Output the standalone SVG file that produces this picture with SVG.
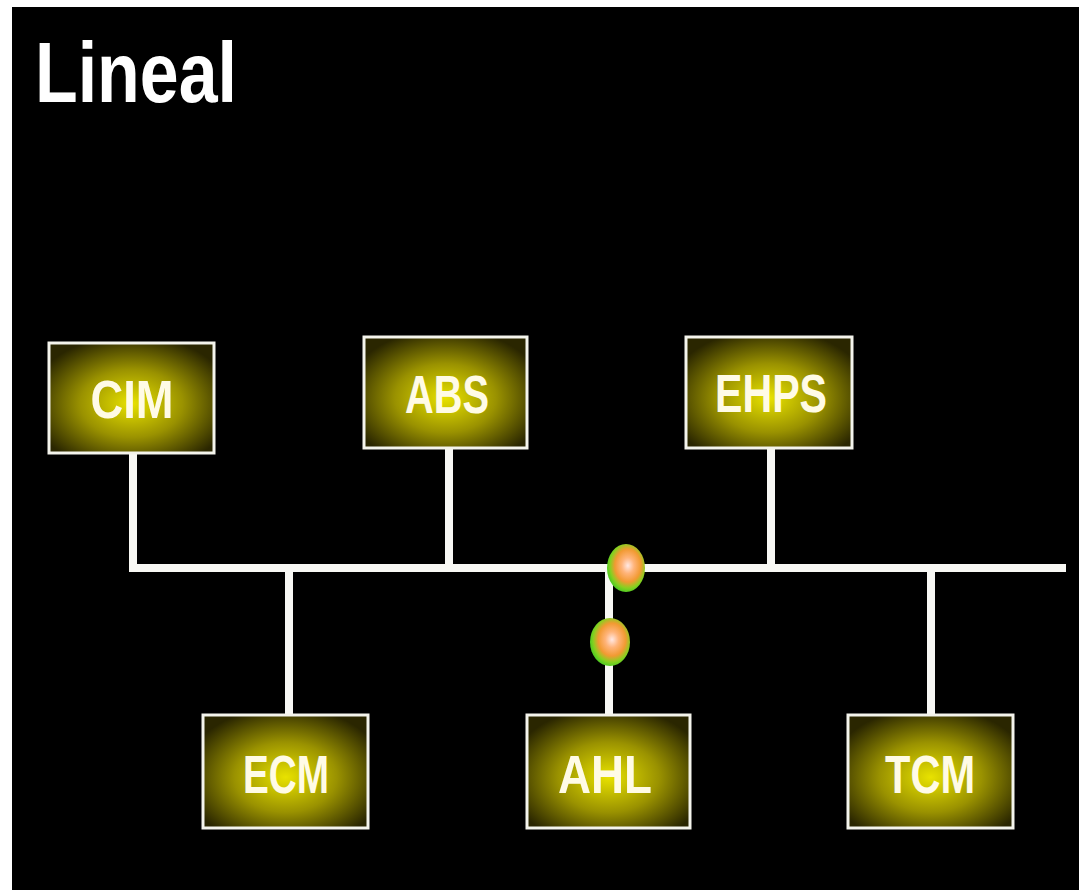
<svg xmlns="http://www.w3.org/2000/svg" width="1079" height="890" viewBox="0 0 1079 890">
  <defs>
    <radialGradient id="boxGrad" cx="50%" cy="55%" r="62%">
      <stop offset="0" stop-color="#e8e200"/>
      <stop offset="0.5" stop-color="#9a9200"/>
      <stop offset="1" stop-color="#2a2600"/>
    </radialGradient>
    <radialGradient id="dotGrad" cx="55%" cy="45%" r="55%">
      <stop offset="0" stop-color="#ffe8e4"/>
      <stop offset="0.3" stop-color="#ffb47a"/>
      <stop offset="0.62" stop-color="#f29a32"/>
      <stop offset="0.85" stop-color="#88d020"/>
      <stop offset="1" stop-color="#55cc22"/>
    </radialGradient>
    <style>
      .box { fill: url(#boxGrad); stroke: #f4f4ec; stroke-width: 3; }
      .lbl { font-family: "Liberation Sans", Arial, sans-serif; font-weight: bold; font-size: 53px; fill: #fffbe6; text-anchor: middle; }
      .wire { stroke: #f8f8f4; stroke-width: 8; fill: none; stroke-linecap: butt; }
      .dot { fill: url(#dotGrad); }
    </style>
  </defs>
  <rect x="0" y="0" width="1079" height="890" fill="#ffffff"/>
  <rect x="12" y="7" width="1067" height="883" fill="#000000"/>
  <text x="35" y="102" font-family="'Liberation Sans', Arial, sans-serif" font-weight="bold" font-size="86" fill="#ffffff" textLength="202" lengthAdjust="spacingAndGlyphs">Lineal</text>

  <g id="connectors">
    <line class="wire" x1="129" y1="568" x2="1066" y2="568"/>
    <line class="wire" x1="133" y1="453" x2="133" y2="572"/>
    <line class="wire" x1="449" y1="448" x2="449" y2="568"/>
    <line class="wire" x1="771" y1="448" x2="771" y2="568"/>
    <line class="wire" x1="289" y1="568" x2="289" y2="715"/>
    <line class="wire" x1="609" y1="568" x2="609" y2="715"/>
    <line class="wire" x1="931" y1="568" x2="931" y2="715"/>
    <ellipse class="dot" cx="626" cy="568" rx="19" ry="24"/>
    <ellipse class="dot" cx="610" cy="642" rx="20" ry="24"/>
  </g>

  <g id="CIM">
    <rect class="box" x="49" y="343" width="165" height="110"/>
    <text class="lbl" x="132" y="418" textLength="83" lengthAdjust="spacingAndGlyphs">CIM</text>
  </g>
  <g id="ABS">
    <rect class="box" x="364" y="337" width="163" height="111"/>
    <text class="lbl" x="447" y="413" textLength="84" lengthAdjust="spacingAndGlyphs">ABS</text>
  </g>
  <g id="EHPS">
    <rect class="box" x="686" y="337" width="166" height="111"/>
    <text class="lbl" x="771" y="412" textLength="112" lengthAdjust="spacingAndGlyphs">EHPS</text>
  </g>
  <g id="ECM">
    <rect class="box" x="203" y="715" width="165" height="113"/>
    <text class="lbl" x="286" y="793" textLength="86" lengthAdjust="spacingAndGlyphs">ECM</text>
  </g>
  <g id="AHL">
    <rect class="box" x="527" y="715" width="163" height="113"/>
    <text class="lbl" x="605" y="793" textLength="94" lengthAdjust="spacingAndGlyphs">AHL</text>
  </g>
  <g id="TCM">
    <rect class="box" x="848" y="715" width="165" height="113"/>
    <text class="lbl" x="930" y="793" textLength="90" lengthAdjust="spacingAndGlyphs">TCM</text>
  </g>
</svg>
